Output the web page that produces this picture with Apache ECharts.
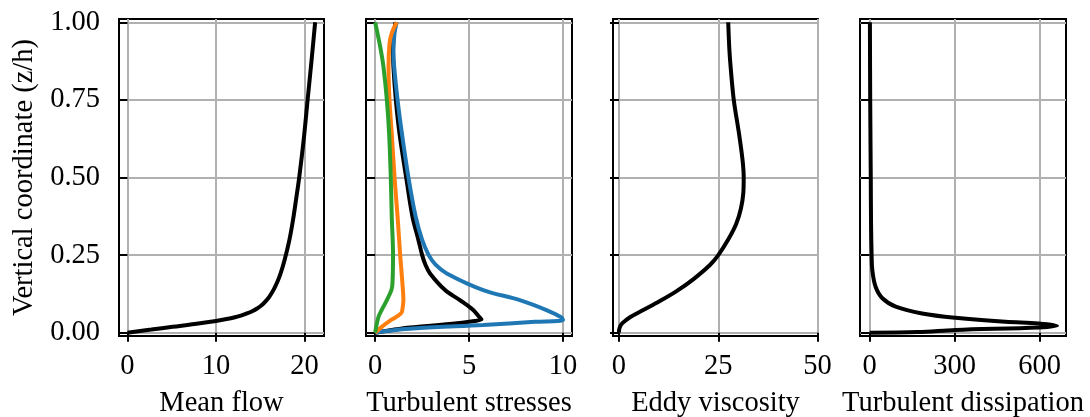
<!DOCTYPE html>
<html>
<head>
<meta charset="utf-8">
<script src="https://cdn.jsdelivr.net/npm/echarts@6/dist/echarts.min.js"></script>
<style>
  html, body { margin: 0; padding: 0; background: #fff; }
  #main { width: 1090px; height: 417px; }
</style>
</head>
<body>
<div id="main"></div>
<script>
// vertical profiles, z/h from bottom to top
var zMean  = [0, 0.01, 0.019, 0.028, 0.038, 0.044, 0.05, 0.056, 0.062, 0.07, 0.078, 0.086, 0.095, 0.105, 0.115, 0.138, 0.165, 0.191, 0.234, 0.3, 0.363, 0.43, 0.5, 0.62, 0.75, 0.879, 1.0];
var uMean  = [0, 2.7, 5.1, 7.6, 10.0, 11.2, 12.15, 12.9, 13.5, 14.15, 14.65, 15.05, 15.4, 15.72, 16.0, 16.5, 16.95, 17.3, 17.75, 18.3, 18.7, 19.05, 19.4, 19.9, 20.35, 20.8, 21.2];

var zBlue  = [0, 0.005, 0.014, 0.025, 0.035, 0.041, 0.05, 0.073, 0.105, 0.1375, 0.191, 0.22, 0.25, 0.299, 0.375, 0.5, 0.643, 0.75, 0.857, 0.91, 0.965, 1.0];
var sBlue  = [0, 0.5, 2.2, 5.75, 8.5, 10.0, 9.9, 9.12, 7.7, 5.75, 3.81, 3.2, 2.85, 2.5, 2.15, 1.77, 1.42, 1.19, 1.01, 0.97, 1.03, 1.15];

var zBlack = [0, 0.008, 0.017, 0.028, 0.038, 0.043, 0.05, 0.073, 0.105, 0.1375, 0.191, 0.22, 0.25, 0.299, 0.375, 0.5, 0.643, 0.75, 0.857, 0.91, 0.965, 1.0];
var sBlack = [0, 0.8, 1.86, 3.98, 5.3, 5.66, 5.55, 5.22, 4.51, 3.72, 2.92, 2.67, 2.5, 2.3, 1.98, 1.65, 1.29, 1.1, 0.97, 0.95, 1.0, 1.08];

var zOrange = [0, 0.019, 0.041, 0.0625, 0.084, 0.105, 0.159, 0.25, 0.375, 0.5, 0.643, 0.75, 0.857, 0.93, 0.965, 1.0];
var sOrange = [0, 0.35, 0.85, 1.38, 1.47, 1.5, 1.45, 1.33, 1.19, 1.03, 0.88, 0.76, 0.71, 0.76, 0.88, 1.15];

var zGreen = [0, 0.015, 0.03, 0.052, 0.068, 0.084, 0.105, 0.1375, 0.159, 0.25, 0.375, 0.5, 0.643, 0.75, 0.857, 0.91, 0.965, 1.0];
var sGreen = [0, 0.04, 0.09, 0.18, 0.3, 0.44, 0.62, 0.86, 0.92, 0.95, 0.88, 0.83, 0.74, 0.62, 0.44, 0.3, 0.12, 0.0];

var zEddy = [0, 0.01, 0.02, 0.03, 0.05, 0.073, 0.102, 0.134, 0.172, 0.218, 0.25, 0.3, 0.35, 0.4, 0.45, 0.5, 0.557, 0.643, 0.75, 0.857, 0.91, 1.0];
var nuEddy = [0, 0.05, 0.3, 0.8, 2.77, 6.1, 10.3, 14.5, 18.7, 22.9, 25.0, 27.5, 29.5, 30.7, 31.3, 31.4, 31.1, 30.2, 28.9, 28.1, 27.8, 27.5];

var zDiss = [0, 0.002, 0.0087, 0.017, 0.0226, 0.03, 0.035, 0.048, 0.062, 0.084, 0.111, 0.148, 0.202, 0.25, 0.35, 0.5, 0.75, 1.0];
var eDiss = [0, 170, 303, 596, 661, 596, 479, 303, 185, 92, 45, 21, 9.4, 7, 5, 4, 2, 1];

var xNames = ['Mean flow', 'Turbulent stresses', 'Eddy viscosity', 'Turbulent dissipation'];
var xTicks = [[0, 10, 20], [0, 5, 10], [0, 25, 50], [0, 300, 600]];
var xRange = [[-0.95, 22.2], [-0.49, 10.48], [-1.5, 50.1], [-34, 693]];
var zTicks = [0, 0.25, 0.5, 0.75, 1.0];

var font = 'Liberation Serif, Times New Roman, serif';
var fs = 28.5;
var gridLefts = [119, 366, 613, 860];
var gridWidths = [205, 206, 205, 206];

function pairs(xs, zs) {
  return xs.map(function (v, i) { return [v, zs[i]]; });
}

var myChart = echarts.init(document.getElementById('main'));

var grids = [], xAxes = [], yAxes = [];
for (var i = 0; i < 4; i++) {
  grids.push({
    left: gridLefts[i], width: gridWidths[i], top: 19, height: 317,
    outerBoundsMode: 'none', containLabel: false,
    show: true, borderColor: '#000', borderWidth: 2, backgroundColor: 'transparent'
  });
  xAxes.push({
    type: 'value', gridIndex: i,
    min: xRange[i][0], max: xRange[i][1],
    name: xNames[i], nameLocation: 'middle', nameGap: 53,
    nameTextStyle: { fontFamily: font, fontSize: fs, color: '#000' },
    axisLine: { show: false },
    axisTick: { show: true, length: 9, customValues: xTicks[i], lineStyle: { color: '#000', width: 2 } },
    axisLabel: { customValues: xTicks[i], fontFamily: font, fontSize: fs, color: '#000', margin: 16 },
    splitLine: { show: true, lineStyle: { color: '#b0b0b0', width: 2 } }
  });
  yAxes.push({
    type: 'value', gridIndex: i,
    min: -0.0106, max: 1.0106,
    name: i === 0 ? 'Vertical coordinate (z/h)' : '',
    nameLocation: 'middle', nameGap: 80,
    nameTextStyle: { fontFamily: font, fontSize: fs, color: '#000' },
    axisLine: { show: false },
    axisTick: { show: true, length: 9, customValues: zTicks, lineStyle: { color: '#000', width: 2 } },
    axisLabel: {
      show: i === 0, customValues: zTicks, fontFamily: font, fontSize: fs, color: '#000', margin: 19,
      formatter: function (v) { return v.toFixed(2); }
    },
    splitLine: { show: true, lineStyle: { color: '#b0b0b0', width: 2 } }
  });
}

function line(data, color, gi, z) {
  return {
    type: 'line', xAxisIndex: gi, yAxisIndex: gi, data: data,
    showSymbol: false, smooth: 0.35, z: z || 2, animation: false,
    lineStyle: { color: color, width: 4 }
  };
}

myChart.setOption({
  backgroundColor: '#fff',
  animation: false,
  grid: grids,
  xAxis: xAxes,
  yAxis: yAxes,
  series: [
    line(pairs(uMean, zMean), '#000', 0),
    line(pairs(sBlack, zBlack), '#000', 1, 2),
    line(pairs(sBlue, zBlue), '#1f77b4', 1, 3),
    line(pairs(sOrange, zOrange), '#ff7f0e', 1, 4),
    line(pairs(sGreen, zGreen), '#2ca02c', 1, 5),
    line(pairs(nuEddy, zEddy), '#000', 2),
    line(pairs(eDiss, zDiss), '#000', 3)
  ]
});
</script>
</body>
</html>
